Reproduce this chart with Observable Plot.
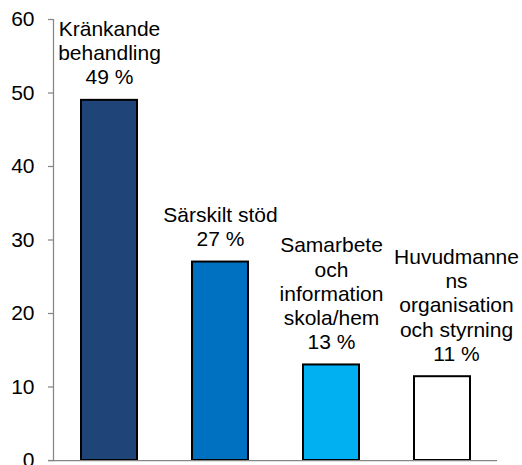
<!DOCTYPE html>
<html><head><meta charset="utf-8">
<script src="https://cdn.jsdelivr.net/npm/d3@7"></script>
<script src="https://cdn.jsdelivr.net/npm/@observablehq/plot@0.6"></script>
<style>body{margin:0;background:#fff}</style>
</head><body><div id="chart"></div>
<script>
const categories = ["Kränkande behandling", "Särskilt stöd", "Samarbete och information skola/hem", "Huvudmannens organisation och styrning"];
const values = [49, 27, 13, 11.4];
const labels = ["Kränkande\nbehandling\n49 %", "Särskilt stöd\n27 %", "Samarbete\noch\ninformation\nskola/hem\n13 %", "Huvudmanne\nns\norganisation\noch styrning\n11 %"];
const colors = ["#1f4578", "#0070c0", "#00b0f0", "#ffffff"];
const yTicks = [0, 10, 20, 30, 40, 50, 60];

const data = categories.map((c, i) => ({category: c, value: values[i], label: labels[i]}));
const gray = "#868686";

const chart = Plot.plot({
  width: 522,
  height: 465,
  marginLeft: 53,
  marginRight: 25,
  marginTop: 19,
  marginBottom: 5,
  style: {fontFamily: "'Liberation Sans', Arial, sans-serif", fontSize: "21px", color: "black", background: "white", overflow: "visible"},
  x: {domain: categories, paddingInner: 0.5, paddingOuter: 0.25, axis: null},
  y: {domain: [0, 60], axis: null},
  color: {domain: categories, range: colors},
  marks: [
    Plot.barY(data, {x: "category", y: "value", fill: "category", stroke: "black", strokeWidth: 2}),
    Plot.frame({anchor: "left", stroke: gray, strokeWidth: 1.25}),
    Plot.ruleY([0], {stroke: gray, strokeWidth: 1.25, insetLeft: -5}),
    Plot.axisY({ticks: yTicks, tickSize: 5, tickPadding: 14, stroke: gray, strokeWidth: 1.25, fill: "black", label: null}),
    Plot.text(data.slice(0, 3), {x: "category", y: "value", text: "label", lineAnchor: "bottom", lineHeight: 1.15, dy: -16, fill: "black"}),
    Plot.text(data.slice(3), {x: "category", y: "value", text: "label", lineAnchor: "bottom", lineHeight: 1.15, dy: -16, dx: 14, fill: "black"})
  ]
});
document.getElementById("chart").appendChild(chart);
</script>
</body></html>
